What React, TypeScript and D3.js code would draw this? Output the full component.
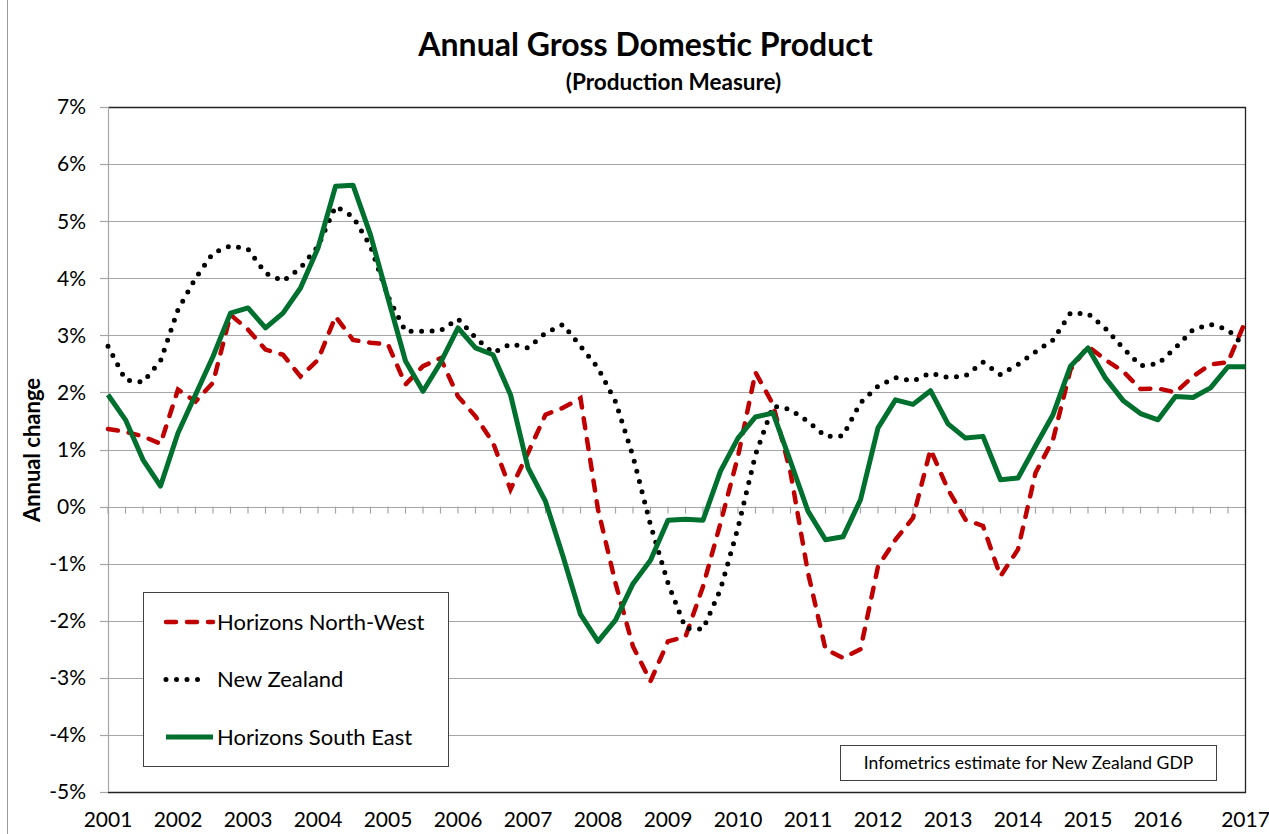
import React from 'react';
import * as d3 from 'd3';

// quarterly annual change (%), 2001 Q1 .. 2017 Q2
const northWest = [
  1.36, 1.31, 1.23, 1.10, 2.05, 1.84, 2.17, 3.36, 3.10, 2.75, 2.66, 2.28, 2.57, 3.33, 2.92, 2.87,
  2.84, 2.14, 2.46, 2.60, 1.93, 1.58, 1.12, 0.30, 0.94, 1.61, 1.73, 1.90, -0.05, -1.34, -2.45, -3.06,
  -2.36, -2.28, -1.40, -0.29, 0.88, 2.35, 1.79, 0.60, -1.16, -2.50, -2.65, -2.50, -1.05, -0.58, -0.20, 1.00,
  0.30, -0.23, -0.34, -1.22, -0.75, 0.59, 1.17, 2.40, 2.81, 2.57, 2.37, 2.06, 2.07, 2.00, 2.28, 2.49,
  2.53, 3.25,
];

const newZealand = [
  2.81, 2.22, 2.18, 2.55, 3.45, 4.00, 4.44, 4.57, 4.51, 4.09, 3.95, 4.18, 4.56, 5.26, 5.08, 4.56,
  3.68, 3.07, 3.07, 3.08, 3.29, 2.96, 2.69, 2.85, 2.78, 3.04, 3.19, 2.81, 2.43, 1.84, 0.88, -0.32,
  -1.34, -2.13, -2.15, -1.45, -0.37, 0.91, 1.76, 1.70, 1.49, 1.23, 1.24, 1.82, 2.11, 2.26, 2.20, 2.34,
  2.26, 2.29, 2.53, 2.31, 2.49, 2.71, 2.92, 3.39, 3.38, 3.12, 2.78, 2.47, 2.50, 2.78, 3.10, 3.19,
  3.10, 2.79,
];

const southEast = [
  1.96, 1.52, 0.82, 0.36, 1.29, 1.96, 2.63, 3.39, 3.48, 3.13, 3.39, 3.83, 4.53, 5.61, 5.63, 4.76,
  3.65, 2.55, 2.02, 2.52, 3.13, 2.78, 2.66, 1.96, 0.68, 0.09, -0.87, -1.89, -2.36, -1.99, -1.35, -0.94,
  -0.24, -0.22, -0.24, 0.62, 1.20, 1.57, 1.64, 0.79, -0.08, -0.58, -0.53, 0.12, 1.38, 1.87, 1.79, 2.03,
  1.45, 1.20, 1.23, 0.47, 0.50, 1.06, 1.61, 2.46, 2.78, 2.25, 1.86, 1.63, 1.52, 1.93, 1.91, 2.08,
  2.45, 2.45,
];

const yearLabels = ['2001', '2002', '2003', '2004', '2005', '2006', '2007', '2008', '2009',
  '2010', '2011', '2012', '2013', '2014', '2015', '2016', '2017'];
// category index each year label sits on
const yearLabelIndex = [0, 4, 8, 12, 16, 20, 24, 28, 32, 36, 40, 44, 48, 52, 56, 60, 65];
const yTicks = [7, 6, 5, 4, 3, 2, 1, 0, -1, -2, -3, -4, -5];

const seriesNames = ['Horizons North-West', 'New Zealand', 'Horizons South East'];

const FONT = 'Lato, Calibri, "Open Sans", sans-serif';
const RED = '#c00000';
const GREEN = '#00702f';

const App: React.FC = () => {
  const width = 1269;
  const height = 834;
  const left = 108;
  const right = 1245.5;
  const top = 107;
  const bottom = 792;

  const n = southEast.length;
  const x = d3.scaleLinear().domain([0, n - 1]).range([left, right]);
  const y = d3.scaleLinear().domain([-5, 7]).range([bottom, top]);

  const line = d3.line<number>()
    .x((_, i) => x(i))
    .y(d => y(d));

  const redStyle = { stroke: RED, strokeWidth: 4.5, strokeDasharray: '10 11', strokeLinecap: 'round' as const };
  const dotStyle = { stroke: '#000', strokeWidth: 5, strokeDasharray: '0 10.5', strokeLinecap: 'round' as const };
  const greenStyle = { stroke: GREEN, strokeWidth: 5, strokeLinejoin: 'round' as const };
  const styles = [redStyle, dotStyle, greenStyle];

  return (
    <svg width={width} height={height} style={{ position: 'absolute', left: 0, top: 0, background: '#fff' }}
      fontFamily={FONT}>
      <rect x={0} y={0} width={width} height={height} fill="#fff" />
      <line x1={7.5} x2={7.5} y1={0} y2={height} stroke="#999" strokeWidth={1} />

      <text x={645.5} y={56} textAnchor="middle" fontSize={32} fontWeight="bold">Annual Gross Domestic Product</text>
      <text x={673.5} y={90} textAnchor="middle" fontSize={22.5} fontWeight="bold">(Production Measure)</text>

      {/* gridlines */}
      {yTicks.map(t => (
        <g key={t}>
          <line x1={left} x2={right} y1={Math.round(y(t)) + 0.5} y2={Math.round(y(t)) + 0.5} stroke="#a6a6a6" strokeWidth={1.2} />
          <line x1={left - 8} x2={left} y1={Math.round(y(t)) + 0.5} y2={Math.round(y(t)) + 0.5} stroke="#a6a6a6" strokeWidth={1.2} />
          <text x={86} y={y(t)} dy="0.35em" textAnchor="end" fontSize={21}>{`${t}%`}</text>
        </g>
      ))}

      {/* category ticks on the zero line */}
      {d3.range(n).map(i => (
        <line key={i} x1={x(i)} x2={x(i)} y1={y(0)} y2={y(0) + 7} stroke="#a6a6a6" strokeWidth={1.2} />
      ))}

      {/* plot border */}
      <path d={`M${left},${top + 0.5}H${right}V${bottom + 0.5}H${left}`} fill="none" stroke="#222" strokeWidth={1.3} />
      <line x1={left + 0.5} x2={left + 0.5} y1={top} y2={bottom} stroke="#a6a6a6" strokeWidth={1.2} />

      {yearLabels.map((lab, k) => (
        <text key={lab} x={x(yearLabelIndex[k])} y={827} textAnchor="middle" fontSize={21}>{lab}</text>
      ))}

      <text transform="translate(40,450) rotate(-90)" textAnchor="middle" fontSize={22} fontWeight="bold">Annual change</text>

      {/* series */}
      <path d={line(northWest) ?? ''} fill="none" {...redStyle} />
      <path d={line(newZealand) ?? ''} fill="none" {...dotStyle} />
      <path d={line(southEast) ?? ''} fill="none" {...greenStyle} />

      {/* legend */}
      <rect x={143.5} y={592.5} width={305} height={174} fill="#fff" stroke="#404040" strokeWidth={1} />
      {seriesNames.map((name, k) => {
        const ly = 622 + k * 57.5;
        return (
          <g key={name}>
            <line x1={166} x2={k === 1 ? 207 : 213} y1={ly} y2={ly} {...styles[k]} />
            <text x={217} y={ly} dy="0.36em" fontSize={22}>{name}</text>
          </g>
        );
      })}

      {/* note box */}
      <rect x={840.5} y={745.5} width={376} height={35} fill="#fff" stroke="#404040" strokeWidth={1} />
      <text x={1028.5} y={763} dy="0.36em" textAnchor="middle" fontSize={17.5}>Infometrics estimate for New Zealand GDP</text>
    </svg>
  );
};

export default App;
